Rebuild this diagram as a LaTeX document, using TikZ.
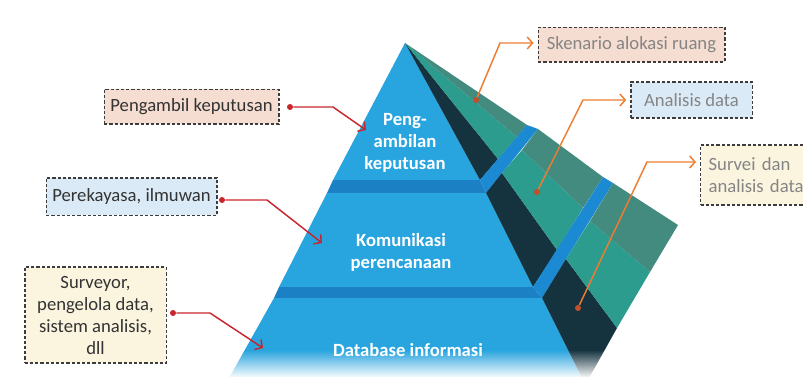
\documentclass[tikz,border=0pt]{standalone}
\usepackage{fontspec}
\setmainfont{Carlito}
\usetikzlibrary{arrows.meta,fadings}
\definecolor{faceblue}{HTML}{28A4DE}
\definecolor{bandblue}{HTML}{1B80C4}
\definecolor{ridgeblue}{HTML}{1C8AD2}
\definecolor{sidenavy}{HTML}{15333F}
\definecolor{sideteal}{HTML}{2C9C8E}
\definecolor{sidesage}{HTML}{438A7F}
\definecolor{dashline}{HTML}{3C3C3C}
\definecolor{ink}{HTML}{333333}
\definecolor{greyink}{HTML}{858585}
\definecolor{peach}{HTML}{F6DDD1}
\definecolor{skyfill}{HTML}{DAEAF6}
\definecolor{cream}{HTML}{FBF4DE}
\definecolor{redline}{HTML}{C9252C}
\definecolor{accent}{HTML}{ED7D31}
\definecolor{dotbrown}{HTML}{C0502A}
\tikzset{
  tag/.style={draw=dashline, dash pattern=on 2.4pt off 1.5pt, line width=1pt, inner sep=0pt, align=center, text=ink, font=\fontsize{14}{16.5}\selectfont},
  gtag/.style={tag, text=greyink},
  tier/.style={text=white, align=center, font=\bfseries\fontsize{14}{16.5}\selectfont},
  rdot/.style={circle, fill=redline, inner sep=0pt, minimum size=4.5pt},
  odot/.style={circle, fill=dotbrown, inner sep=0pt, minimum size=4.5pt},
  rflow/.style={draw=redline, line width=1.1pt, -{Straight Barb[length=4pt, width=9pt]}},
  oflow/.style={draw=accent, line width=1.1pt, -{Straight Barb[length=4pt, width=9pt]}},
}

\begin{document}
\begin{tikzpicture}[x=0.75pt, y=-0.75pt]
  \clip (0,0) rectangle (803,376);
  % top tier
  \fill[faceblue] (405,43) -- (333,180) -- (480,180) -- cycle;
  \fill[sidenavy] (405,43) -- (480,180) -- (498,159) -- cycle;
  \fill[sideteal] (405,43) -- (498,159) -- (517,137) -- cycle;
  \fill[sidesage] (405,43) -- (517,137) -- (527,125) -- cycle;
  \fill[bandblue] (333,180) -- (480,180) -- (486,193) -- (327,193) -- cycle;
  \fill[ridgeblue] (480,180) -- (527,125) -- (538,129) -- (486,193) -- cycle;
  % middle tier
  \fill[faceblue] (327,193) -- (486,193) -- (533,287) -- (279,287) -- cycle;
  \fill[sidenavy] (486,193) -- (502,173) -- (557,250) -- (533,287) -- cycle;
  \fill[sideteal] (502,173) -- (522,150) -- (583,208) -- (557,250) -- cycle;
  \fill[sidesage] (522,150) -- (538,129) -- (603,177) -- (583,208) -- cycle;
  \fill[bandblue] (279,287) -- (533,287) -- (542,298) -- (274,298) -- cycle;
  \fill[ridgeblue] (533,287) -- (603,177) -- (613,183) -- (542,298) -- cycle;
  % bottom tier
  \fill[faceblue] (274,298) -- (542,298) -- (582,378) -- (229,378) -- cycle;
  \fill[sidenavy] (542,298) -- (566,259) -- (617,328) -- (589,378) -- (582,378) -- cycle;
  \fill[sideteal] (566,259) -- (590,221) -- (650,272) -- (617,328) -- cycle;
  \fill[sidesage] (590,221) -- (613,183) -- (678,225) -- (650,272) -- cycle;
  \fill[white, path fading=north] (220,350) rectangle (610,378);

  \node[tier] (top) at (405,143) {Peng-\\ambilan\\keputusan};
  \node[tier] (mid) at (401,252) {Komunikasi\\perencanaan};
  \node[tier] (base) at (408,350) {Database informasi};

  % who works on each tier
  \node[tag, fill=peach, minimum width=131pt, minimum height=26pt] (pk) at (191.5,106.5) {Pengambil keputusan};
  \node[tag, fill=skyfill, minimum width=128pt, minimum height=28pt] (pi) at (131.5,196.5) {Perekayasa, ilmuwan};
  \node[tag, fill=cream, minimum width=106pt, minimum height=72pt] (sv) at (95.5,315) {Surveyor,\\pengelola data,\\sistem analisis,\\dll};

  % what each tier produces
  \node[gtag, fill=peach, minimum width=140pt, minimum height=26pt] (sk) at (631.5,44.5) {Skenario alokasi ruang};
  \node[gtag, fill=skyfill, minimum width=91pt, minimum height=27pt] (ad) at (691.5,100) {Analisis data};
  \node[gtag, fill=cream, anchor=west, text width=74pt, align=left, inner xsep=6pt, minimum height=45pt] (sd) at (700,175) {Survei dan\\analisis data};

  \node[rdot] (r1) at (290,107) {};
  \node[rdot] (r2) at (222,200) {};
  \node[rdot] (r3) at (173,313) {};
  \coordinate (r1b) at (333,107); \coordinate (r1t) at (366,130);
  \coordinate (r2b) at (267,200); \coordinate (r2t) at (322,243);
  \coordinate (r3b) at (210,313); \coordinate (r3t) at (263,348);
  \draw[rflow] (r1) -- (r1b) -- (r1t);
  \draw[rflow] (r2) -- (r2b) -- (r2t);
  \draw[rflow] (r3) -- (r3b) -- (r3t);

  \node[odot] (o1) at (476,100) {};
  \node[odot] (o2) at (537,192) {};
  \node[odot] (o3) at (578,308) {};
  \coordinate (o1b) at (500,43);
  \coordinate (o2b) at (583,100);
  \coordinate (o3b) at (647,162);
  \draw[oflow] (o1) -- (o1b) -- ([xshift=-3pt]sk.west |- o1b);
  \draw[oflow] (o2) -- (o2b) -- ([xshift=-3pt]ad.west |- o2b);
  \draw[oflow] (o3) -- (o3b) -- ([xshift=-3pt]sd.west |- o3b);
\end{tikzpicture}
\end{document}
